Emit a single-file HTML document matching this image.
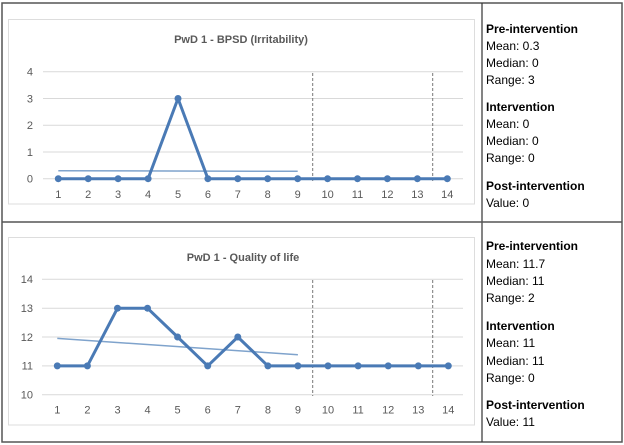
<!DOCTYPE html>
<html><head><meta charset="utf-8"><style>
body{margin:0;background:#fff;}
svg{display:block;font-family:"Liberation Sans",sans-serif;}
</style></head><body>
<svg width="624" height="445" viewBox="0 0 624 445" xmlns="http://www.w3.org/2000/svg">
<rect x="0" y="0" width="624" height="445" fill="#fff"/>
<!-- table borders -->
<rect x="2" y="3" width="620" height="439" fill="none" stroke="#555" stroke-width="1.5"/>
<line x1="482" y1="3" x2="482" y2="442" stroke="#333" stroke-width="1.2"/>
<line x1="2" y1="222" x2="622" y2="222" stroke="#555" stroke-width="1.5"/>

<!-- top chart -->
<rect x="8.5" y="19.5" width="466" height="184.5" fill="#fff" stroke="#ddd"/>
<text x="241" y="43" text-anchor="middle" font-size="11" font-weight="bold" fill="#595959">PwD 1 - BPSD (Irritability)</text>
<g stroke="#d9d9d9" stroke-width="1">
<line x1="43" y1="71.7" x2="463" y2="71.7"/><line x1="43" y1="98.5" x2="463" y2="98.5"/>
<line x1="43" y1="125.2" x2="463" y2="125.2"/><line x1="43" y1="152" x2="463" y2="152"/>
<line x1="43" y1="178.7" x2="463" y2="178.7"/>
</g>
<g font-size="11" fill="#595959" text-anchor="end">
<text x="33" y="75.5">4</text><text x="33" y="102.3">3</text><text x="33" y="129">2</text><text x="33" y="155.8">1</text><text x="33" y="182.5">0</text>
</g>
<g font-size="11" fill="#595959" text-anchor="middle">
<text x="58.3" y="198">1</text><text x="88.2" y="198">2</text><text x="118.1" y="198">3</text><text x="148.1" y="198">4</text><text x="178" y="198">5</text><text x="207.9" y="198">6</text><text x="237.8" y="198">7</text><text x="267.7" y="198">8</text><text x="297.7" y="198">9</text><text x="327.6" y="198">10</text><text x="357.5" y="198">11</text><text x="387.4" y="198">12</text><text x="417.4" y="198">13</text><text x="447.3" y="198">14</text>
</g>
<g stroke="#777" stroke-dasharray="3,2" stroke-width="1">
<line x1="312.7" y1="73" x2="312.7" y2="182"/><line x1="432.7" y1="73" x2="432.7" y2="182"/>
</g>
<line x1="58.3" y1="170.7" x2="297.7" y2="171.3" stroke="#7fa3cc" stroke-width="1.5"/>
<polyline fill="none" stroke="#4a7ab5" stroke-width="3" stroke-linejoin="round" points="58.3,178.7 88.2,178.7 118.1,178.7 148.1,178.7 178,98.5 207.9,178.7 237.8,178.7 267.7,178.7 297.7,178.7 327.6,178.7 357.5,178.7 387.4,178.7 417.4,178.7 447.3,178.7"/>
<g fill="#4a7ab5">
<circle cx="58.3" cy="178.7" r="3.5"/><circle cx="88.2" cy="178.7" r="3.5"/><circle cx="118.1" cy="178.7" r="3.5"/><circle cx="148.1" cy="178.7" r="3.5"/><circle cx="178" cy="98.5" r="3.5"/><circle cx="207.9" cy="178.7" r="3.5"/><circle cx="237.8" cy="178.7" r="3.5"/><circle cx="267.7" cy="178.7" r="3.5"/><circle cx="297.7" cy="178.7" r="3.5"/><circle cx="327.6" cy="178.7" r="3.5"/><circle cx="357.5" cy="178.7" r="3.5"/><circle cx="387.4" cy="178.7" r="3.5"/><circle cx="417.4" cy="178.7" r="3.5"/><circle cx="447.3" cy="178.7" r="3.5"/>
</g>

<!-- bottom chart -->
<rect x="8.5" y="237.5" width="466" height="187.5" fill="#fff" stroke="#ddd"/>
<text x="243" y="261" text-anchor="middle" font-size="11" font-weight="bold" fill="#595959">PwD 1 - Quality of life</text>
<g stroke="#d9d9d9" stroke-width="1">
<line x1="42" y1="279.3" x2="463" y2="279.3"/><line x1="42" y1="308.2" x2="463" y2="308.2"/>
<line x1="42" y1="337" x2="463" y2="337"/><line x1="42" y1="365.9" x2="463" y2="365.9"/>
<line x1="42" y1="394.7" x2="463" y2="394.7"/>
</g>
<g font-size="11" fill="#595959" text-anchor="end">
<text x="33" y="283">14</text><text x="33" y="312">13</text><text x="33" y="341">12</text><text x="33" y="369.7">11</text><text x="33" y="398.5">10</text>
</g>
<g font-size="11" fill="#595959" text-anchor="middle">
<text x="57.3" y="413.5">1</text><text x="87.4" y="413.5">2</text><text x="117.5" y="413.5">3</text><text x="147.5" y="413.5">4</text><text x="177.6" y="413.5">5</text><text x="207.7" y="413.5">6</text><text x="237.8" y="413.5">7</text><text x="267.9" y="413.5">8</text><text x="297.9" y="413.5">9</text><text x="328" y="413.5">10</text><text x="358.1" y="413.5">11</text><text x="388.2" y="413.5">12</text><text x="418.3" y="413.5">13</text><text x="448.3" y="413.5">14</text>
</g>
<g stroke="#777" stroke-dasharray="3,2" stroke-width="1">
<line x1="312.7" y1="280" x2="312.7" y2="396"/><line x1="432.7" y1="280" x2="432.7" y2="396"/>
</g>
<line x1="57.3" y1="338.4" x2="297.9" y2="354.8" stroke="#7fa3cc" stroke-width="1.5"/>
<polyline fill="none" stroke="#4a7ab5" stroke-width="3" stroke-linejoin="round" points="57.3,365.9 87.4,365.9 117.5,308.2 147.5,308.2 177.6,337 207.7,365.9 237.8,337 267.9,365.9 297.9,365.9 328,365.9 358.1,365.9 388.2,365.9 418.3,365.9 448.3,365.9"/>
<g fill="#4a7ab5">
<circle cx="57.3" cy="365.9" r="3.5"/><circle cx="87.4" cy="365.9" r="3.5"/><circle cx="117.5" cy="308.2" r="3.5"/><circle cx="147.5" cy="308.2" r="3.5"/><circle cx="177.6" cy="337" r="3.5"/><circle cx="207.7" cy="365.9" r="3.5"/><circle cx="237.8" cy="337" r="3.5"/><circle cx="267.9" cy="365.9" r="3.5"/><circle cx="297.9" cy="365.9" r="3.5"/><circle cx="328" cy="365.9" r="3.5"/><circle cx="358.1" cy="365.9" r="3.5"/><circle cx="388.2" cy="365.9" r="3.5"/><circle cx="418.3" cy="365.9" r="3.5"/><circle cx="448.3" cy="365.9" r="3.5"/>
</g>

<!-- right column text -->
<g font-size="12" fill="#000">
<text x="486" y="33" font-weight="bold">Pre-intervention</text>
<text x="486" y="50">Mean: 0.3</text>
<text x="486" y="67">Median: 0</text>
<text x="486" y="84">Range: 3</text>
<text x="486" y="111" font-weight="bold">Intervention</text>
<text x="486" y="128">Mean: 0</text>
<text x="486" y="145">Median: 0</text>
<text x="486" y="162">Range: 0</text>
<text x="486" y="190" font-weight="bold">Post-intervention</text>
<text x="486" y="207">Value: 0</text>

<text x="486" y="250" font-weight="bold">Pre-intervention</text>
<text x="486" y="268">Mean: 11.7</text>
<text x="486" y="285">Median: 11</text>
<text x="486" y="302">Range: 2</text>
<text x="486" y="330" font-weight="bold">Intervention</text>
<text x="486" y="347">Mean: 11</text>
<text x="486" y="365">Median: 11</text>
<text x="486" y="382">Range: 0</text>
<text x="486" y="409" font-weight="bold">Post-intervention</text>
<text x="486" y="426">Value: 11</text>
</g>
</svg>
</body></html>
